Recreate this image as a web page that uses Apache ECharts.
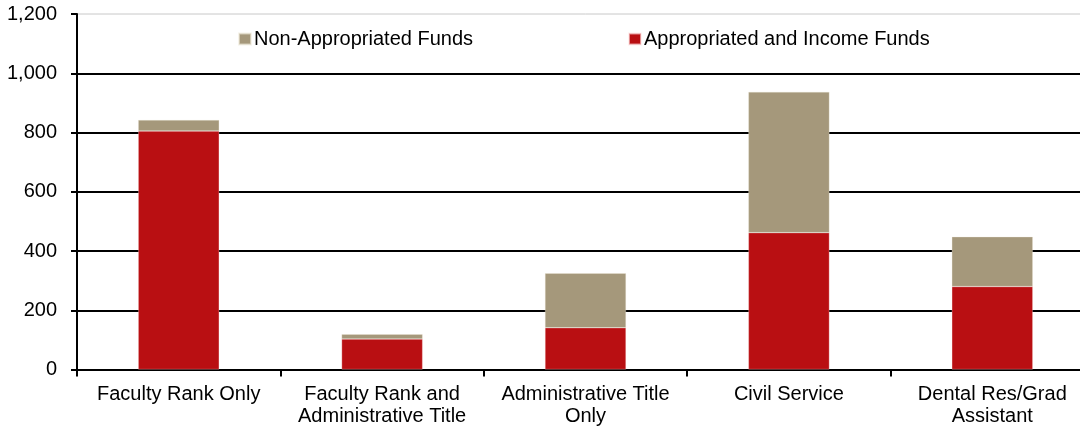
<!DOCTYPE html>
<html>
<head>
<meta charset="utf-8">
<script src="https://cdn.jsdelivr.net/npm/echarts@6/dist/echarts.min.js"></script>
<style>
  html, body { margin: 0; padding: 0; background: #fff; overflow: hidden; }
  /* plot area runs slightly past the right edge of the viewport */
  #chart { width: 1094px; height: 428px; }
</style>
</head>
<body>
<div id="chart"></div>
<script>
// Headcount by appointment type, split by funding source
const categories = [
  'Faculty Rank Only',
  'Faculty Rank and\nAdministrative Title',
  'Administrative Title\nOnly',
  'Civil Service',
  'Dental Res/Grad\nAssistant'
];
const appropriatedIncome = [805, 103, 141, 462, 280];
const nonAppropriated = [37, 16, 184, 475, 168];
const yTicks = { min: 0, max: 1200, interval: 200 };

const FONT = 'Liberation Sans, Arial, sans-serif';
const RED = '#B90F12';
const TAN = '#A5987B';

const chart = echarts.init(document.getElementById('chart'), null, { renderer: 'canvas' });

chart.setOption({
  animation: false,
  backgroundColor: '#ffffff',
  textStyle: { fontFamily: FONT },
  grid: {
    left: 77, top: 14, right: 0, bottom: 58.5,
    show: true, borderColor: '#c8c8c8', borderWidth: 1, backgroundColor: 'transparent'
  },
  legend: [
    {
      data: ['Non-Appropriated Funds'],
      left: 233, top: 24,
      itemWidth: 12, itemHeight: 11, itemGap: 0,
      icon: 'rect',
      textStyle: { fontFamily: FONT, fontSize: 20, color: '#000', padding: [0, 0, 0, -2] }
    },
    {
      data: ['Appropriated and Income Funds'],
      left: 623, top: 24,
      itemWidth: 12, itemHeight: 11, itemGap: 0,
      icon: 'rect',
      textStyle: { fontFamily: FONT, fontSize: 20, color: '#000', padding: [0, 0, 0, -2] }
    }
  ],
  xAxis: {
    type: 'category',
    data: categories,
    boundaryGap: true,
    axisLine: { show: true, lineStyle: { color: '#000', width: 2 } },
    axisTick: { show: true, length: 7, lineStyle: { color: '#000', width: 2 } },
    axisLabel: {
      interval: 0, margin: 14, color: '#000',
      fontFamily: FONT, fontSize: 20, lineHeight: 22, align: 'center'
    },
    splitLine: { show: false }
  },
  yAxis: {
    type: 'value',
    min: yTicks.min, max: yTicks.max, interval: yTicks.interval,
    axisLine: { show: true, lineStyle: { color: '#000', width: 2 } },
    axisTick: { show: true, length: 6, lineStyle: { color: '#000', width: 2 } },
    axisLabel: {
      margin: 20, color: '#000', fontFamily: FONT, fontSize: 20,
      formatter: v => v.toLocaleString('en-US')
    },
    splitLine: { show: true, showMaxLine: false, lineStyle: { color: '#000', width: 2 } }
  },
  series: [
    {
      name: 'Appropriated and Income Funds',
      type: 'bar',
      stack: 'total',
      data: appropriatedIncome,
      barWidth: 81,
      itemStyle: { color: RED, borderColor: 'rgba(255,230,230,0.6)', borderWidth: 0.5 }
    },
    {
      name: 'Non-Appropriated Funds',
      type: 'bar',
      stack: 'total',
      data: nonAppropriated,
      barWidth: 81,
      itemStyle: { color: TAN, borderColor: 'rgba(240,235,220,0.6)', borderWidth: 0.5 }
    }
  ]
});
</script>
</body>
</html>
